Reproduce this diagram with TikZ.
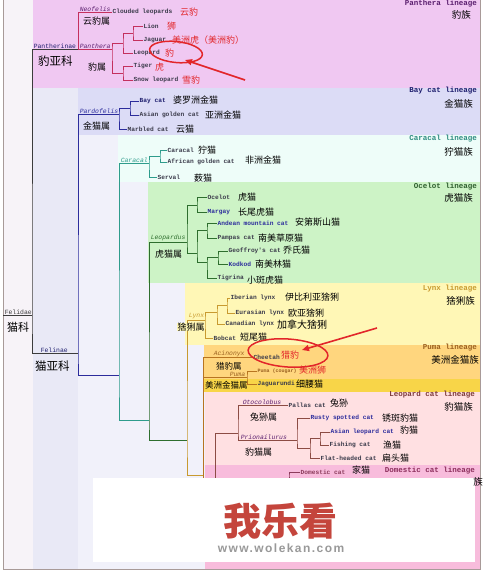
\documentclass[tikz,border=0pt]{standalone}
\usepackage{fontspec}
\setmonofont{Liberation Mono}
\newfontfamily\cjk{Noto Sans CJK SC}
\newfontfamily\wmfont{Liberation Sans}[LetterSpace=12]
\usetikzlibrary{positioning,calc,arrows.meta,shapes.geometric}
% backgrounds of the lineages
\definecolor{bgleft}{HTML}{F7F3F8}
\definecolor{bglav}{HTML}{E9E9F6}
\definecolor{bglav2}{HTML}{F1F1FA}
\definecolor{bgpan}{HTML}{F0C8F2}
\definecolor{bgbay}{HTML}{DCDCF6}
\definecolor{bgcar}{HTML}{EEFDF9}
\definecolor{bgoce}{HTML}{CDF3C6}
\definecolor{bglyn}{HTML}{FFF7B6}
\definecolor{bgpum}{HTML}{FFD67E}
\definecolor{bgpums}{HTML}{F8D548}
\definecolor{bgleo}{HTML}{FFE0E2}
\definecolor{bgdom}{HTML}{F8BCDC}
% tree lines
\definecolor{lnfel}{HTML}{3C3C3C}
\definecolor{lnpan}{HTML}{C4305E}
\definecolor{lnbay}{HTML}{2C2C9C}
\definecolor{lncar}{HTML}{2E9C8C}
\definecolor{lnoce}{HTML}{2E6E2E}
\definecolor{lnlyn}{HTML}{C89A30}
\definecolor{lnpum}{HTML}{B87420}
\definecolor{lnleo}{HTML}{8C4C44}
\definecolor{lndom}{HTML}{8C3C5C}
% texts
\definecolor{cnred}{HTML}{E2262A}
\definecolor{spc}{HTML}{3A3A4A}
\definecolor{tpan}{HTML}{5A1E6E}
\definecolor{tbay}{HTML}{1E1E6E}
\definecolor{tcar}{HTML}{2E8C80}
\definecolor{toce}{HTML}{2E5E2E}
\definecolor{tlyn}{HTML}{C89A30}
\definecolor{tpum}{HTML}{9A6020}
\definecolor{tleo}{HTML}{7C3A3A}
\definecolor{tdom}{HTML}{8C2E5C}
\definecolor{framec}{HTML}{A89A98}
\definecolor{wmred}{HTML}{C4453C}
\definecolor{wmgray}{HTML}{999999}

\begin{document}
\begin{tikzpicture}[x=1pt, y=-1pt,
  sp/.style={anchor=west, inner sep=0.5pt, text=spc, font=\ttfamily\bfseries\fontsize{6.2}{7}\selectfont},
  zh/.style={anchor=west, inner sep=0pt, font=\cjk\fontsize{9}{10}\selectfont},
  zhr/.style={zh, text=cnred},
  gen/.style={anchor=south west, inner sep=0.6pt, font=\ttfamily\itshape\fontsize{6.4}{7}\selectfont},
  sub/.style={gen, font=\ttfamily\fontsize{6.4}{7}\selectfont},
  rank/.style={anchor=west, inner sep=0pt, font=\cjk\fontsize{11.5}{12}\selectfont},
  lin/.style={anchor=east, inner sep=0pt, font=\ttfamily\bfseries\fontsize{7.5}{8}\selectfont},
  linzh/.style={anchor=east, inner sep=0pt, font=\cjk\fontsize{9.5}{10}\selectfont},
  tree/.style={line width=0.9pt},
  ring/.style={draw=cnred, line width=1.5pt, ellipse, inner sep=0pt},
  redarrow/.style={cnred, line width=1.6pt, -{Triangle[length=7pt,width=6pt]}}
]
\useasboundingbox (0,0) rectangle (485,572);
\fill[white] (0,0) rectangle (485,572);

% lineage bands
\fill[bgleft] (3,0) rectangle (33,569);
\fill[bglav] (33,88) rectangle (480,569);
\fill[bglav2] (78,135) rectangle (480,569);
\fill[bgpan] (33,0) rectangle (480,88);
\fill[bgbay] (78,88) rectangle (480,135);
\fill[bgcar] (118,135) rectangle (480,182);
\fill[bgoce] (148,182) rectangle (480,283);
\fill[bglyn] (185,283) rectangle (480,345);
\fill[bgpum] (204,345) rectangle (480,392);
\fill[bgpums] (204,379) rectangle (480,392);
\fill[bgleo] (205,392) rectangle (480,465);
\fill[bgdom] (205,465) rectangle (480,569);
\draw[framec, line width=0.8pt] (3,-2) rectangle (480,569);

% Felidae / subfamilies
\node[sub, text=lnfel] (felidae) at (4,315) {Felidae};
\node[rank, font=\cjk\fontsize{11}{12}\selectfont] (felidaezh) at (7,327) {猫科};
\node[sub, text=tbay] (pantherinae) at (33,49) {Pantherinae};
\node[rank] (pantherinaezh) at (38,61) {豹亚科};
\node[sub, text=tbay] (felinae) at (40,353) {Felinae};
\node[rank] (felinaezh) at (35,366) {猫亚科};

% Panthera lineage
\node[gen, text=tpan] (neofelis) at (79,12) {Neofelis};
\node[zh] (neofeliszh) at (83,21) {云豹属};
\node[gen, text=tpan] (panthera) at (79,49) {Panthera};
\node[zh] (pantherazh) at (88,67) {豹属};
\node[sp] (clouded) at (112,12) {Clouded leopards};
\node[zhr] (cloudedzh) at (180,12) {云豹};
\node[sp] (lion) at (143,26) {Lion};
\node[zhr] (lionzh) at (167,26) {狮};
\node[sp] (jaguar) at (143,40) {Jaguar};
\node[zhr] (jaguarzh) at (172,40) {美洲虎（美洲豹）};
\node[sp] (leopard) at (133,53) {Leopard};
\node[zhr] (leopardzh) at (165,53) {豹};
\node[sp] (tiger) at (133,66) {Tiger};
\node[zhr] (tigerzh) at (155,67) {虎};
\node[sp] (snow) at (133,80) {Snow leopard};
\node[zhr] (snowzh) at (182,80) {雪豹};
\node[lin, text=tpan] (panlin) at (477,3.5) {Panthera lineage};
\node[linzh] (panlinzh) at (471,14.5) {豹族};

% Bay cat lineage
\node[gen, text=lnbay] (pardofelis) at (79,114) {Pardofelis};
\node[zh] (pardofeliszh) at (83,126) {金猫属};
\node[sp, text=tbay] (bay) at (139,101) {Bay cat};
\node[zh] (bayzh) at (173,100) {婆罗洲金猫};
\node[sp] (asian) at (139,115) {Asian golden cat};
\node[zh] (asianzh) at (205,115) {亚洲金猫};
\node[sp] (marbled) at (127,129) {Marbled cat};
\node[zh] (marbledzh) at (176,129) {云猫};
\node[lin, text=tbay] (baylin) at (477,91) {Bay cat lineage};
\node[linzh] (baylinzh) at (473,104) {金猫族};

% Caracal lineage
\node[gen, text=lncar] (caracalg) at (120,163) {Caracal};
\node[sp] (caracal) at (167,150) {Caracal};
\node[zh] (caracalzh) at (198,150) {狞猫};
\node[sp] (afgc) at (167,162) {African golden cat};
\node[zh] (afgczh) at (245,160) {非洲金猫};
\node[sp] (serval) at (157,177) {Serval};
\node[zh] (servalzh) at (194,178) {薮猫};
\node[lin, text=tcar] (carlin) at (477,139) {Caracal lineage};
\node[linzh] (carlinzh) at (473,152) {狞猫族};

% Ocelot lineage
\node[gen, text=lnoce] (leopardus) at (150,242) {Leopardus};
\node[zh] (leopardusZH) at (155,254) {虎猫属};
\node[sp] (ocelot) at (207,197) {Ocelot};
\node[zh] (ocelotzh) at (238,197) {虎猫};
\node[sp, text=lnbay] (margay) at (207,212) {Margay};
\node[zh] (margayzh) at (238,212) {长尾虎猫};
\node[sp, text=lnbay] (andean) at (217,223) {Andean mountain cat};
\node[zh] (andeanzh) at (295,222) {安第斯山猫};
\node[sp] (pampas) at (217,238) {Pampas cat};
\node[zh] (pampaszh) at (258,238) {南美草原猫};
\node[sp] (geoffroy) at (228,251) {Geoffroy's cat};
\node[zh] (geoffroyzh) at (283,250) {乔氏猫};
\node[sp, text=lnbay] (kodkod) at (228,264) {Kodkod};
\node[zh] (kodkodzh) at (255,264) {南美林猫};
\node[sp] (tigrina) at (217,278) {Tigrina};
\node[zh] (tigrinazh) at (247,280) {小斑虎猫};
\node[lin, text=toce] (ocelin) at (477,187) {Ocelot lineage};
\node[linzh] (ocelinzh) at (473,198) {虎猫族};

% Lynx lineage
\node[gen, text=tlyn] (lynxg) at (188,320) {Lynx};
\node[sp] (iberian) at (230,298) {Iberian lynx};
\node[zh] (iberianzh) at (285,297) {伊比利亚猞猁};
\node[sp] (eurasian) at (235,313) {Eurasian lynx};
\node[zh] (eurasianzh) at (288,313) {欧亚猞猁};
\node[sp] (canadian) at (225,324) {Canadian lynx};
\node[zh, font=\cjk\fontsize{10}{11}\selectfont] (canadianzh) at (277,325) {加拿大猞猁};
\node[sp] (bobcat) at (213,338) {Bobcat};
\node[zh] (bobcatzh) at (240,337) {短尾猫};
\node[lin, text=tlyn] (lynlin) at (477,289) {Lynx lineage};
\node[linzh] (lynlinzh) at (475,301) {猞猁族};

% Puma lineage
\node[gen, text=tpum] (acinonyx) at (213,358) {Acinonyx};
\node[zh, font=\cjk\fontsize{8.5}{9}\selectfont] (acinonyxzh) at (216,366) {猎豹属};
\node[gen, text=tpum] (pumag) at (229,377) {Puma};
\node[zh, font=\cjk\fontsize{8.5}{9}\selectfont] (pumagzh) at (205,385) {美洲金猫属};
\node[sp] (cheetah) at (253,357) {Cheetah};
\node[zhr] (cheetahzh) at (281,355) {猎豹};
\node[sp, font=\ttfamily\bfseries\fontsize{5}{6}\selectfont, text=tpum] (puma) at (257,371) {Puma (cougar)};
\node[zhr] (pumazh) at (299,370) {美洲狮};
\node[sp] (jaguarundi) at (257,384) {Jaguarundi};
\node[zh] (jaguarundizh) at (296,384) {细腰猫};
\node[lin, text=tpum] (pumlin) at (477,348) {Puma lineage};
\node[linzh] (pumlinzh) at (479,360) {美洲金猫族};

% Leopard cat lineage
\node[gen, text=tpan] (otocolobus) at (242,405) {Otocolobus};
\node[zh] (otocoloboszh) at (250,417) {兔狲属};
\node[gen, text=tpan] (prionailurus) at (240,440) {Prionailurus};
\node[zh] (prionailuruszh) at (245,452) {豹猫属};
\node[sp] (pallas) at (288,405) {Pallas cat};
\node[zh] (pallaszh) at (330,403) {兔狲};
\node[sp, text=lnbay] (rusty) at (310,418) {Rusty spotted cat};
\node[zh] (rustyzh) at (382,418) {锈斑豹猫};
\node[sp, text=lnbay] (asianl) at (330,432) {Asian leopard cat};
\node[zh] (asianlzh) at (400,430) {豹猫};
\node[sp] (fishing) at (329,445) {Fishing cat};
\node[zh] (fishingzh) at (383,445) {渔猫};
\node[sp] (flat) at (320,458) {Flat-headed cat};
\node[zh] (flatzh) at (382,458) {扁头猫};
\node[lin, text=tleo] (leolin) at (475,395) {Leopard cat lineage};
\node[linzh] (leolinzh) at (473,407) {豹猫族};

% Domestic cat lineage
\node[sp, text=lndom] (domestic) at (300,472) {Domestic cat};
\node[zh] (domesticzh) at (352,470) {家猫};
\node[lin, text=tdom] (domlin) at (475,471) {Domestic cat lineage};

% junctions of the tree
\coordinate (felroot) at (3,315);
\coordinate (felsp) at (32,315);
\coordinate (ptn) at (78,49);
\coordinate (fln) at (78,353);
\coordinate (lj) at (133,33);
\coordinate (ljl) at (123,43);
\coordinate (ts) at (123,73);
\coordinate (pan) at (112,49);
\coordinate (bc) at (130,108);
\coordinate (pard) at (119,114);
\coordinate (car0) at (119,375);
\coordinate (ca) at (160,156);
\coordinate (carg) at (149,163);
\coordinate (oce0) at (149,420);
\coordinate (om) at (197,205);
\coordinate (rest) at (197,253);
\coordinate (ap) at (207,230);
\coordinate (gkt) at (207,262);
\coordinate (gk) at (218,257);
\coordinate (leop) at (187,242);
\coordinate (lyn0) at (187,440);
\coordinate (l2) at (227,305);
\coordinate (l3) at (217,312);
\coordinate (lynx) at (205,320);
\coordinate (pum0) at (203,475);
\coordinate (pumsp) at (203,377);
\coordinate (pumbot) at (203,480);
\coordinate (pumg) at (247,377);
\coordinate (af) at (320,438);
\coordinate (inner) at (310,448);
\coordinate (prg) at (297,440);
\coordinate (leo0) at (238,433);
\coordinate (leodom) at (215,480);
\coordinate (domv) at (289,476);
\coordinate (dom0) at (278,478);

% Felidae
\draw[tree, lnfel] (felroot) -- (felsp);
\draw[tree, lnfel] (ptn) -| (felsp) |- (fln);
% Panthera
\draw[tree, lnpan] (lion.west) -| (lj) |- (jaguar.west);
\draw[tree, lnpan] (lj) -| (ljl) |- (leopard.west);
\draw[tree, lnpan] (tiger.west) -| (ts) |- (snow.west);
\draw[tree, lnpan] (ljl) -| (pan) |- (ts);
\draw[tree, lnpan] (clouded.west) -| (ptn) -- (pan);
% Bay cat
\draw[tree, lnbay] (bay.west) -| (bc) |- (asian.west);
\draw[tree, lnbay] (bc) -| (pard) |- (marbled.west);
\draw[tree, lnbay] (pard) -| (fln) |- (car0);
% Caracal
\draw[tree, lncar] (caracal.west) -| (ca) |- (afgc.west);
\draw[tree, lncar] (ca) -| (carg) |- (serval.west);
\draw[tree, lncar] (carg) -| (car0) |- (oce0);
% Ocelot
\draw[tree, lnoce] (ocelot.west) -| (om) |- (margay.west);
\draw[tree, lnoce] (andean.west) -| (ap) |- (pampas.west);
\draw[tree, lnoce] (geoffroy.west) -| (gk) |- (kodkod.west);
\draw[tree, lnoce] (gk) -| (gkt) |- (tigrina.west);
\draw[tree, lnoce] (ap) -| (rest) |- (gkt);
\draw[tree, lnoce] (om) -| (leop) |- (rest);
\draw[tree, lnoce] (leop) -| (oce0) |- (lyn0);
% Lynx
\draw[tree, lnlyn] (iberian.west) -| (l2) |- (eurasian.west);
\draw[tree, lnlyn] (l2) -| (l3) |- (canadian.west);
\draw[tree, lnlyn] (l3) -| (lynx) |- (bobcat.west);
\draw[tree, lnlyn] (lynx) -| (lyn0) |- (pum0);
% Puma
\draw[tree, lnpum] (puma.west) -| (pumg) |- (jaguarundi.west);
\draw[tree, lnpum] (cheetah.west) -| (pumsp) -- (pumg);
\draw[tree, lnpum] (pumsp) -- (pumbot);
% Leopard cat
\draw[tree, lnleo] (asianl.west) -| (af) |- (fishing.west);
\draw[tree, lnleo] (af) -| (inner) |- (flat.west);
\draw[tree, lnleo] (rusty.west) -| (prg) |- (inner);
\draw[tree, lnleo] (prg) -| (leo0) |- (pallas.west);
\draw[tree, lnleo] (leo0) -| (leodom);
% Domestic cat
\draw[tree, lndom] (domestic.west) -| (domv) |- (dom0);

% genus label set over its line
\node[zh, fill=bglyn, inner sep=0.3pt] (lynxgzh) at (177,327) {猞猁属};

% watermark
\fill[white] (93,478) rectangle (475,562);
\node[linzh] (domlinzh) at (483,482) {族};
\node[inner sep=0pt, text=wmred, font=\cjk\bfseries\fontsize{38}{40}\selectfont] (wmzh) at (280,521) {我乐看};
\node[inner sep=0pt, text=wmgray, font=\wmfont\bfseries\fontsize{12}{13}\selectfont] (wmurl) at (281,548) {www.wolekan.com};

% red marks
\node[ring, minimum width=53pt, minimum height=21pt, rotate=-6] (ring1) at (176,52) {};
\node[ring, minimum width=80pt, minimum height=28pt, rotate=-4] (ring2) at (288,353) {};
\coordinate (a1s) at (245,80);
\coordinate (a1e) at (185,60);
\coordinate (a2s) at (377,328);
\coordinate (a2e) at (302,350);
\draw[redarrow] (a1s) -- (a1e);
\draw[redarrow] (a2s) -- (a2e);
\end{tikzpicture}
\end{document}
